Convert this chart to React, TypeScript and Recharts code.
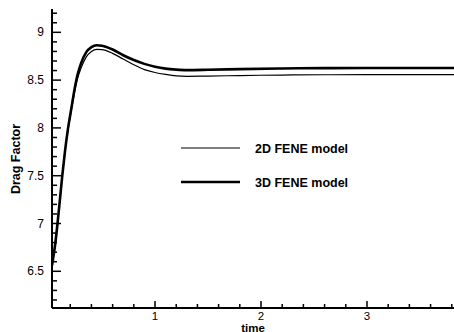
import { Line, LineChart, XAxis, YAxis } from 'recharts';

const times = [
  0.028, 0.06, 0.08, 0.1, 0.125, 0.15, 0.18, 0.21, 0.24, 0.27, 0.3, 0.35, 0.4, 0.45, 0.5, 0.6, 0.7, 0.8,
  0.9, 1.0, 1.1, 1.2, 1.3, 1.5, 1.8, 2.2, 2.6, 3.0, 3.5, 3.821,
];
const drag3D = [
  6.56, 6.8, 7.0, 7.22, 7.5, 7.75, 8.0, 8.2, 8.4, 8.56, 8.67, 8.79, 8.845, 8.865, 8.86, 8.82, 8.76,
  8.71, 8.67, 8.64, 8.62, 8.61, 8.605, 8.608, 8.615, 8.622, 8.625, 8.626, 8.627, 8.627,
];
const drag2D = [
  6.56, 6.8, 7.0, 7.22, 7.5, 7.75, 7.99, 8.18, 8.37, 8.52, 8.62, 8.74, 8.8, 8.822, 8.82, 8.78, 8.72,
  8.66, 8.61, 8.58, 8.56, 8.545, 8.54, 8.542, 8.548, 8.553, 8.556, 8.557, 8.557, 8.557,
];

const xMajorTicks = [1, 2, 3];
const xTicks = [0.2, 0.4, 0.6, 0.8, 1, 1.2, 1.4, 1.6, 1.8, 2, 2.2, 2.4, 2.6, 2.8, 3, 3.2, 3.4, 3.6, 3.8];
const yMajorTicks = [6.5, 7, 7.5, 8, 8.5, 9];
const yTicks = [
  6.2, 6.3, 6.4, 6.5, 6.6, 6.7, 6.8, 6.9, 7, 7.1, 7.2, 7.3, 7.4, 7.5, 7.6, 7.7, 7.8, 7.9, 8, 8.1, 8.2,
  8.3, 8.4, 8.5, 8.6, 8.7, 8.8, 8.9, 9, 9.1, 9.2,
];
const seriesNames = ['2D FENE model', '3D FENE model'];

const data = times.map((t, i) => ({ t, d2: drag2D[i], d3: drag3D[i] }));

const FONT = '"Liberation Sans", Arial, sans-serif';

function isMajor(list: number[], v: number) {
  return list.some((m) => Math.abs(m - v) < 1e-6);
}

function XTick(props: any) {
  const { x, y, payload } = props;
  const major = isMajor(xMajorTicks, payload.value);
  return (
    <g>
      <line x1={x} x2={x} y1={y} y2={y - (major ? 7 : 4)} stroke="#000" strokeWidth={1.5} />
      {major && (
        <text x={x} y={y + 12} textAnchor="middle" fontSize={11.5} fontFamily={FONT} fill="#000">
          {payload.value}
        </text>
      )}
    </g>
  );
}

function YTick(props: any) {
  const { x, y, payload } = props;
  const major = isMajor(yMajorTicks, payload.value);
  return (
    <g>
      <line x1={x} x2={x + (major ? 9 : 5)} y1={y} y2={y} stroke="#000" strokeWidth={1.5} />
      {major && (
        <text x={x - 8} y={y + 4} textAnchor="end" fontSize={12} fontFamily={FONT} fill="#000">
          {payload.value}
        </text>
      )}
    </g>
  );
}

export default function App() {
  const widths = [1.2, 2.6];
  return (
    <div style={{ position: 'absolute', left: 0, top: 0, background: '#fff' }}>
      <LineChart width={454} height={332} data={data} margin={{ top: 9, right: 0, left: 0, bottom: 0 }}>
        <XAxis
          type="number"
          dataKey="t"
          domain={[0.028, 3.821]}
          ticks={xTicks}
          interval={0}
          tickSize={0}
          tickMargin={0}
          tickLine={false}
          tick={<XTick />}
          height={24}
          axisLine={{ stroke: '#000', strokeWidth: 2 }}
          allowDataOverflow
        />
        <YAxis
          type="number"
          domain={[6.116, 9.244]}
          ticks={yTicks}
          interval={0}
          tickSize={0}
          tickMargin={0}
          tickLine={false}
          tick={<YTick />}
          width={52}
          axisLine={{ stroke: '#000', strokeWidth: 2 }}
          allowDataOverflow
        />
        <Line
          type="monotone"
          dataKey="d2"
          stroke="#000"
          strokeWidth={1.2}
          dot={false}
          isAnimationActive={false}
        />
        <Line
          type="monotone"
          dataKey="d3"
          stroke="#000"
          strokeWidth={2.6}
          dot={false}
          isAnimationActive={false}
        />
        {seriesNames.map((name, i) => (
          <g key={name}>
            <line x1={181} x2={240} y1={148 + i * 34} y2={148 + i * 34} stroke="#000" strokeWidth={widths[i]} />
            <text x={255} y={152.5 + i * 34} fontSize={12.5} fontWeight="bold" fontFamily={FONT} fill="#000">
              {name}
            </text>
          </g>
        ))}
        <text x={20} y={159} transform="rotate(-90 20 159)" textAnchor="middle" fontSize={12.5} fontWeight="bold" fontFamily={FONT}>
          Drag Factor
        </text>
        <text x={253} y={331.5} textAnchor="middle" fontSize={11.5} fontWeight="bold" fontFamily={FONT}>
          time
        </text>
      </LineChart>
    </div>
  );
}
